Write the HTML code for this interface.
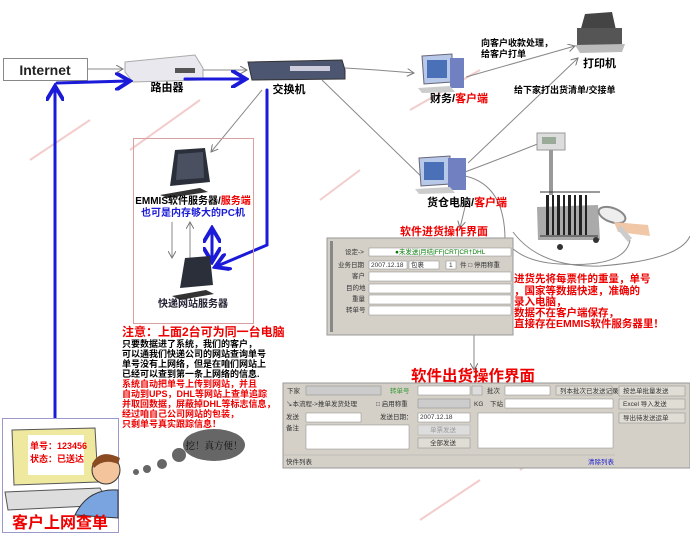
<!DOCTYPE html>
<html><head><meta charset="utf-8"><style>
body{margin:0;background:#fff;width:690px;height:538px;overflow:hidden;font-family:"Liberation Sans","Noto Sans CJK SC",sans-serif}
svg{display:block}
</style></head><body>
<svg width="690" height="538" viewBox="0 0 690 538" xmlns="http://www.w3.org/2000/svg" font-family="Liberation Sans, Noto Sans CJK SC, sans-serif">
<defs>
<marker id="ga" markerWidth="8" markerHeight="8" refX="7" refY="4" orient="auto"><path d="M0,0 L7,4 L0,8" fill="none" stroke="#777" stroke-width="1"/></marker>
<marker id="ba" markerWidth="6" markerHeight="6" refX="5" refY="3" orient="auto-start-reverse"><path d="M0,0 L5,3 L0,6" fill="none" stroke="#1a1ad8" stroke-width="1.3"/></marker>
</defs>
<g fill="none" stroke="#f3cccc" stroke-width="2">
<path d="M30,160 L90,120"/><path d="M130,150 L200,100"/><path d="M410,110 L480,70"/><path d="M320,200 L360,170"/><path d="M420,520 L480,480"/><path d="M520,470 L560,440"/><path d="M30,440 L70,420"/>
</g>
<rect x="3.5" y="58.5" width="84" height="22" fill="#fff" stroke="#888"/>
<text x="45" y="75" font-size="14" font-weight="bold" text-anchor="middle" fill="#222">Internet</text>
<path d="M125,62 L195,55 L203,68 L203,80 L133,82 L125,72Z" fill="#e8e8ee" stroke="#aaa"/>
<rect x="175" y="68" width="20" height="5" fill="#555"/>
<text x="167" y="91" font-size="11" font-weight="bold" text-anchor="middle">路由器</text>
<path d="M248,62 L342,60 L345,70 L345,79 L252,80Z" fill="#4c5670" stroke="#333"/>
<rect x="290" y="66" width="40" height="5" fill="#ccd"/>
<text x="289" y="93" font-size="11" font-weight="bold" text-anchor="middle">交换机</text>
<g stroke="#888" stroke-width="1" fill="none">
<line x1="88" y1="69" x2="123" y2="69" marker-end="url(#ga)"/>
<line x1="203" y1="70" x2="247" y2="70" marker-end="url(#ga)"/>
<path d="M345,68 Q380,70 414,73" marker-end="url(#ga)"/>
<line x1="322" y1="80" x2="428" y2="183" marker-end="url(#ga)"/>
<line x1="262" y1="90" x2="211" y2="152" marker-end="url(#ga)"/>
<line x1="466" y1="77" x2="575" y2="46" marker-end="url(#ga)"/>
<line x1="468" y1="163" x2="578" y2="58" marker-end="url(#ga)"/>
<path d="M465,172 Q510,155 540,143"/>
<path d="M465,176 Q505,185 505,240 Q520,262 560,264 Q625,268 630,240"/>
<line x1="465" y1="207" x2="460" y2="228" marker-end="url(#ga)"/>
<line x1="172" y1="222" x2="172" y2="258" marker-end="url(#ga)"/>
<line x1="190" y1="258" x2="190" y2="222" marker-end="url(#ga)"/>
<line x1="474" y1="335" x2="474" y2="370" marker-end="url(#ga)"/>
<path d="M513,232 Q540,268 600,266 Q680,260 690,236"/>
</g>
<g stroke="#1a1ad8" stroke-width="3" fill="none" stroke-linecap="round">
<line x1="55" y1="418" x2="55" y2="86" marker-end="url(#ba)"/>
<line x1="57" y1="83" x2="130" y2="81" marker-end="url(#ba)"/>
<line x1="185" y1="79" x2="246" y2="79" marker-end="url(#ba)"/>
<path d="M267,90 L267,245 L215,267" marker-end="url(#ba)"/>
<line x1="212" y1="228" x2="212" y2="262" marker-start="url(#ba)" marker-end="url(#ba)"/>
</g>
<rect x="133.5" y="138.5" width="120" height="185" fill="none" stroke="#d8a0a0"/>
<path d="M175,150 L205,148 L210,182 L170,186Z" fill="#2a2f3a"/>
<path d="M178,154 L203,152 L204,178 L176,180Z" fill="#4a5060"/>
<path d="M160,195 L200,188 L208,192 L168,198Z" fill="#333"/>
<text x="193" y="204" font-size="10" font-weight="bold" text-anchor="middle"><tspan>EMMIS软件服务器/</tspan><tspan fill="#e00">服务端</tspan></text>
<text x="193" y="216" font-size="10" font-weight="bold" text-anchor="middle" fill="#1a1ad8">也可是内存够大的PC机</text>
<path d="M185,258 L210,256 L213,285 L180,288Z" fill="#2a2f3a"/>
<path d="M172,296 L206,290 L214,294 L180,300Z" fill="#333"/>
<text x="193" y="307" font-size="10" font-weight="bold" text-anchor="middle" fill="#223">快递网站服务器</text>
<text x="122" y="336" font-size="12" font-weight="bold" fill="#e00">注意：上面2台可为同一台电脑</text>
<g font-size="9" font-weight="bold">
<text x="122" y="347">只要数据进了系统，我们的客户，</text>
<text x="122" y="357">可以通我们快递公司的网站查询单号</text>
<text x="122" y="367">单号没有上网络，但是在咱们网站上</text>
<text x="122" y="377">已经可以查到第一条上网络的信息.</text>
<g fill="#e00">
<text x="122" y="387">系统自动把单号上传到网站，并且</text>
<text x="122" y="397">自动到UPS，DHL等网站上查单追踪</text>
<text x="122" y="407">并取回数据，屏蔽掉DHL等标志信息，</text>
<text x="122" y="417">经过咱自己公司网站的包装，</text>
<text x="122" y="427">只剩单号真实跟踪信息！</text>
</g></g>
<ellipse cx="214" cy="445" rx="31" ry="16" fill="#666"/>
<text x="214" y="449" font-size="9.5" text-anchor="middle" fill="#111" font-family="Liberation Serif, Noto Serif CJK SC, serif">挖！真方便！</text>
<circle cx="179" cy="455" r="7" fill="#666"/><circle cx="162" cy="464" r="5" fill="#666"/><circle cx="147" cy="469" r="4" fill="#666"/><circle cx="136" cy="472" r="3" fill="#666"/>
<rect x="2.5" y="418.5" width="116" height="114" fill="#fff" stroke="#9999cc"/>
<path d="M12,430 L95,428 L98,482 L14,485Z" fill="#efe9a0" stroke="#555"/>
<rect x="28" y="435" width="56" height="40" fill="#fff"/>
<text x="30" y="449" font-size="9" font-weight="bold" fill="#e00">单号：123456</text>
<text x="30" y="462" font-size="9" font-weight="bold" fill="#e00">状态：已送达</text>
<path d="M5,492 L100,488 L110,505 L8,510Z" fill="#ddd" stroke="#555"/>
<path d="M75,515 Q88,488 118,490 L118,518Z" fill="#7aa4e0" stroke="#333"/>
<circle cx="106" cy="470" r="14" fill="#f4c49c" stroke="#333"/>
<path d="M92,464 Q100,448 120,458 L118,464 Q104,458 94,468Z" fill="#8a4a22"/>
<text x="60" y="528" font-size="16" font-weight="bold" text-anchor="middle" fill="#e00">客户上网查单</text>
<path d="M422,56 L452,54 L452,82 L424,84Z" fill="#b8c8e8" stroke="#667"/>
<rect x="427" y="60" width="20" height="18" fill="#4a70b8"/>
<rect x="450" y="58" width="14" height="30" fill="#7080c0"/>
<path d="M418,88 L450,86 L455,92 L422,93Z" fill="#ccc"/>
<text x="430" y="102" font-size="11" font-weight="bold"><tspan>财务/</tspan><tspan fill="#e00">客户端</tspan></text>
<path d="M585,14 L612,12 L616,30 L580,32Z" fill="#444"/>
<rect x="577" y="28" width="45" height="18" fill="#555"/>
<path d="M575,45 L625,44 L622,52 L580,53Z" fill="#bbb"/>
<text x="583" y="67" font-size="11" font-weight="bold">打印机</text>
<text x="481" y="46" font-size="9" font-weight="bold">向客户收款处理，</text>
<text x="481" y="57" font-size="9" font-weight="bold">给客户打单</text>
<text x="514" y="93" font-size="9" font-weight="bold">给下家打出货清单/交接单</text>
<path d="M419,158 L450,156 L450,184 L421,186Z" fill="#b8c8e8" stroke="#667"/>
<rect x="424" y="162" width="20" height="18" fill="#4a70b8"/>
<rect x="448" y="158" width="18" height="32" fill="#7080c0"/>
<path d="M415,189 L450,187 L455,193 L419,194Z" fill="#ccc"/>
<text x="427" y="206" font-size="11" font-weight="bold"><tspan>货仓电脑/</tspan><tspan fill="#e00">客户端</tspan></text>
<rect x="537" y="133" width="28" height="17" fill="#ddd" stroke="#999"/>
<rect x="542" y="137" width="14" height="7" fill="#9a9"/>
<rect x="549" y="150" width="4" height="45" fill="#999"/>
<path d="M537,207 L598,205 L600,240 L538,240Z" fill="#aaa"/>
<g fill="#222"><rect x="546" y="195" width="3" height="40"/><rect x="552" y="195" width="2" height="40"/><rect x="557" y="195" width="3" height="40"/><rect x="563" y="195" width="2" height="40"/><rect x="568" y="195" width="3" height="40"/><rect x="574" y="195" width="2" height="40"/><rect x="579" y="195" width="3" height="40"/><rect x="585" y="195" width="2" height="40"/></g>
<line x1="540" y1="192" x2="600" y2="192" stroke="#333"/>
<line x1="540" y1="236" x2="598" y2="236" stroke="#333"/>
<circle cx="560" cy="247" r="3" fill="#333"/><circle cx="596" cy="240" r="3" fill="#333"/>
<ellipse cx="612" cy="215" rx="14" ry="7" fill="#eee" stroke="#888" stroke-width="2" transform="rotate(20 612 215)"/>
<path d="M614,222 L648,225 L650,236 L618,232Z" fill="#f0c8a8"/>
<path d="M620,225 L632,238 L628,242 L618,230Z" fill="#ccc"/>
<text x="444" y="235" font-size="11" font-weight="bold" text-anchor="middle" fill="#e00">软件进货操作界面</text>
<rect x="327" y="238" width="186" height="97" fill="#d4d0c8" stroke="#999"/>
<rect x="330" y="241" width="3" height="91" fill="#888"/>
<g font-size="6.5" fill="#333">
<text x="345" y="254">设定-&gt;</text><rect x="369" y="248" width="142" height="8" fill="#fff" stroke="#888" stroke-width=".5"/><text x="395" y="254" fill="#070">●未发送|月结|FF|CRT|CR†DHL</text>
<text x="338" y="267">业务日期</text><rect x="369" y="261" width="38" height="8" fill="#fff" stroke="#888" stroke-width=".5"/><text x="371" y="267">2007.12.18</text><rect x="409" y="261" width="30" height="8" fill="#fff" stroke="#888" stroke-width=".5"/><text x="411" y="267">包裹</text><rect x="446" y="261" width="10" height="8" fill="#fff" stroke="#888" stroke-width=".5"/><text x="449" y="267">1</text><text x="460" y="267">件  □ 停用称重</text>
<text x="352" y="278">客户</text><rect x="369" y="272" width="142" height="9" fill="#fff" stroke="#888" stroke-width=".5"/>
<text x="346" y="290">目的地</text><rect x="369" y="284" width="142" height="9" fill="#fff" stroke="#888" stroke-width=".5"/>
<text x="352" y="301">重量</text><rect x="369" y="295" width="142" height="9" fill="#fff" stroke="#888" stroke-width=".5"/>
<text x="346" y="312">转单号</text><rect x="369" y="306" width="142" height="9" fill="#fff" stroke="#888" stroke-width=".5"/>
</g>
<g font-size="10.5" font-weight="bold" fill="#e00">
<text x="514" y="282">进货先将每票件的重量，单号</text>
<text x="514" y="294">，国家等数据快速，准确的</text>
<text x="514" y="305">录入电脑，</text>
<text x="514" y="316">数据不在客户端保存，</text>
<text x="514" y="327">直接存在EMMIS软件服务器里！</text>
</g>
<text x="473" y="381" font-size="15.5" font-weight="bold" text-anchor="middle" fill="#e00">软件出货操作界面</text>
<rect x="283" y="383" width="407" height="85" fill="#d4d0c8" stroke="#999"/>
<g font-size="6.5" fill="#333" stroke-width=".5">
<text x="287" y="393">下家</text><rect x="306" y="386" width="75" height="9" fill="#ccc" stroke="#888"/>
<text x="390" y="393" fill="#393">转单号</text><rect x="418" y="386" width="52" height="9" fill="#fff" stroke="#888"/><rect x="472" y="386" width="10" height="9" fill="#ddd" stroke="#888"/>
<text x="487" y="393">批次</text><rect x="505" y="386" width="45" height="9" fill="#fff" stroke="#888"/>
<rect x="556" y="386" width="56" height="9" fill="#e0ddd5" stroke="#888"/><text x="560" y="393">列本批次已发送记录</text>
<rect x="619" y="386" width="66" height="10" fill="#e0ddd5" stroke="#888"/><text x="623" y="393">按总单批量发送</text>
<text x="286" y="406">↘本流程-&gt;推单发货处理</text>
<text x="376" y="406">□ 启用称重</text><rect x="418" y="399" width="52" height="9" fill="#ccc" stroke="#888"/><text x="474" y="406">KG</text>
<text x="490" y="406">下站</text><rect x="505" y="399" width="108" height="9" fill="#fff" stroke="#888"/>
<rect x="619" y="399" width="66" height="10" fill="#e0ddd5" stroke="#888"/><text x="623" y="406">Excel 导入发送</text>
<text x="286" y="419">发送</text><rect x="306" y="413" width="55" height="9" fill="#fff" stroke="#888"/>
<text x="380" y="419">发送日期：</text><rect x="418" y="413" width="52" height="9" fill="#fff" stroke="#888"/><text x="420" y="419">2007.12.18</text>
<rect x="478" y="413" width="135" height="35" fill="#fff" stroke="#888"/>
<rect x="619" y="413" width="66" height="10" fill="#e0ddd5" stroke="#888"/><text x="623" y="420">导出待发送运单</text>
<text x="286" y="430">备注</text><rect x="306" y="425" width="103" height="24" fill="#fff" stroke="#888"/>
<rect x="418" y="425" width="52" height="10" fill="#ddd" stroke="#aaa"/><text x="430" y="432" fill="#999">单票发送</text>
<rect x="418" y="438" width="52" height="10" fill="#e0ddd5" stroke="#888"/><text x="430" y="445">全部发送</text>
<line x1="283" y1="455" x2="615" y2="455" stroke="#aaa"/>
<text x="286" y="464">快件列表</text><text x="588" y="464" fill="#22c">清除列表</text>
</g>
</svg>
</body></html>
